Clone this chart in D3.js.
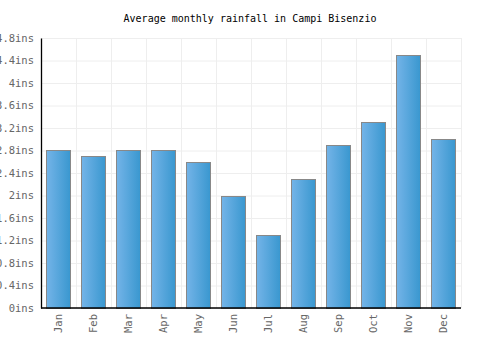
<!DOCTYPE html>
<html><head><meta charset="utf-8">
<script src="https://cdn.jsdelivr.net/npm/d3@7"></script>
<style>body{margin:0;background:#fff}svg{display:block}</style>
</head><body>
<script>
const months = ["Jan","Feb","Mar","Apr","May","Jun","Jul","Aug","Sep","Oct","Nov","Dec"];
const rainfall = [2.8,2.7,2.8,2.8,2.6,2.0,1.3,2.3,2.9,3.3,4.5,3.0];
const yTicks = [0,0.4,0.8,1.2,1.6,2,2.4,2.8,3.2,3.6,4,4.4,4.8];
const title = "Average monthly rainfall in Campi Bisenzio";

const W=500,H=350, m={l:41,r:39,t:38,b:42};
const svg=d3.select("body").append("svg").attr("width",W).attr("height",H);
const font="'DejaVu Sans Mono', monospace";
const defs=svg.append("defs");
const g=defs.append("linearGradient").attr("id","bg").attr("x1","0").attr("x2","1").attr("y1","0").attr("y2","0");
g.append("stop").attr("offset","0").attr("stop-color","#74b4e8");
g.append("stop").attr("offset","1").attr("stop-color","#3997cf");

const x=d3.scaleBand().domain(months).range([m.l,W-m.r]).paddingInner(0.31).paddingOuter(0.155);
const xb=d3.scaleBand().domain(months).range([m.l,W-m.r]);
const y=d3.scaleLinear().domain([0,4.8]).range([H-m.b,m.t]);

// grid
svg.append("g").selectAll("line.h").data(yTicks).join("line")
 .attr("x1",m.l).attr("x2",W-m.r).attr("y1",d=>y(d)+0.5).attr("y2",d=>y(d)+0.5)
 .attr("stroke","#eeeeee").attr("stroke-width",1);
svg.append("g").selectAll("line.v").data(months.concat(["_end"])).join("line")
 .attr("x1",(d,i)=>Math.round(m.l+i*xb.step())+0.5).attr("x2",(d,i)=>Math.round(m.l+i*xb.step())+0.5)
 .attr("y1",m.t).attr("y2",H-m.b).attr("stroke","#eeeeee");

// bars
svg.append("g").selectAll("rect").data(rainfall).join("rect")
 .attr("x",(d,i)=>Math.round(x(months[i]))+0.5).attr("width",Math.round(x.bandwidth()))
 .attr("y",d=>Math.round(y(d))+0.5).attr("height",d=>H-m.b-Math.round(y(d)))
 .attr("fill","url(#bg)").attr("stroke","#888888").attr("stroke-width",1);

// axes
const ya=svg.append("g").attr("transform",`translate(${m.l},0)`)
 .call(d3.axisLeft(y).tickValues(yTicks).tickFormat(d=>d3.format("~g")(d)+"ins").tickSize(0).tickPadding(7));
ya.select(".domain").attr("stroke","#000").attr("stroke-width",1.3);
ya.selectAll("text").attr("font-family",font).attr("font-size",10.5).attr("fill","#666");

const xa=svg.append("g").attr("transform",`translate(0,${H-m.b})`)
 .call(d3.axisBottom(xb).tickSize(0).tickPadding(0));
xa.select(".domain").attr("stroke","#000").attr("stroke-width",1.3).attr("d",`M${m.l},0H${W-m.r}`);
xa.selectAll("text").attr("font-family",font).attr("font-size",10.5).attr("fill","#666")
 .attr("transform","rotate(-90)").attr("text-anchor","end").attr("dy","0.35em").attr("x",-6).attr("y",0);

svg.append("text").attr("x",250).attr("y",22).attr("text-anchor","middle")
 .attr("font-family",font).attr("font-size",10).attr("fill","#000").text(title);
</script>
</body></html>
